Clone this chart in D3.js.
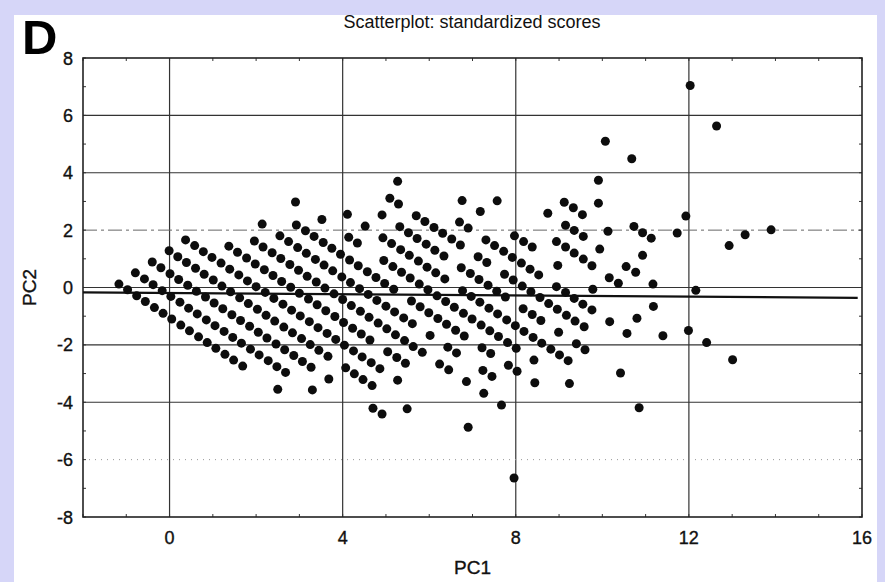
<!DOCTYPE html>
<html>
<head>
<meta charset="utf-8">
<script src="https://cdn.jsdelivr.net/npm/d3@7"></script>
<style>
  html, body { margin: 0; padding: 0; background: #d6d6f8; }
  svg { display: block; font-family: "Liberation Sans", Arial, Helvetica, sans-serif; }
  .lbl { fill: #111; stroke: #111; stroke-width: 0.35px; }
</style>
</head>
<body>
<svg id="chart" width="885" height="582"></svg>
<script>
// Standardized principal component scores (PC1, PC2)
const scoresLow = [
  [-1.17,0.12],[-0.97,-0.08],[-0.76,-0.29],[-0.56,-0.49],[-0.35,-0.70],[-0.15,-0.90],[0.05,-1.10],[0.26,-1.31],[0.46,-1.51],[0.67,-1.72],[0.87,-1.92],[1.07,-2.12],[1.28,-2.33],[1.48,-2.53],[1.69,-2.74],[2.50,-3.55],
  [-0.79,0.51],[-0.58,0.30],[-0.38,0.10],[-0.17,-0.11],[0.03,-0.31],[0.24,-0.51],[0.44,-0.72],[0.64,-0.92],[0.85,-1.13],[1.05,-1.33],[1.26,-1.53],[1.46,-1.74],[1.66,-1.94],[1.87,-2.15],[2.07,-2.35],[2.28,-2.55],[2.48,-2.76],[2.68,-2.96],[3.30,-3.57],
  [-0.40,0.89],[-0.20,0.69],[0.01,0.48],[0.21,0.28],[0.42,0.08],[0.62,-0.13],[0.83,-0.33],[1.03,-0.54],[1.23,-0.74],[1.44,-0.95],[1.64,-1.15],[1.85,-1.35],[2.05,-1.56],[2.25,-1.76],[2.46,-1.97],[2.66,-2.17],[2.87,-2.37],[3.07,-2.58],[3.27,-2.78],[3.68,-3.19],[4.70,-4.21],[4.91,-4.41],
  [-0.01,1.28],[0.19,1.07],[0.39,0.87],[0.60,0.67],[0.80,0.46],[1.01,0.26],[1.21,0.05],[1.41,-0.15],[1.62,-0.36],[1.82,-0.56],[2.03,-0.76],[2.23,-0.97],[2.43,-1.17],[2.64,-1.38],[2.84,-1.58],[3.05,-1.78],[3.25,-1.99],[3.45,-2.19],[3.66,-2.40],[4.07,-2.80],[4.27,-3.01],[4.47,-3.21],[4.68,-3.42],[5.49,-4.23],
  [0.37,1.66],[0.58,1.46],[0.78,1.25],[0.98,1.05],[1.19,0.85],[1.39,0.64],[1.60,0.44],[1.80,0.23],[2.00,0.03],[2.21,-0.17],[2.41,-0.38],[2.62,-0.58],[2.82,-0.79],[3.02,-0.99],[3.23,-1.19],[3.43,-1.40],[3.64,-1.60],[3.84,-1.81],[4.04,-2.01],[4.25,-2.21],[4.45,-2.42],[4.66,-2.62],[4.86,-2.83],[5.27,-3.23],[6.90,-4.87]
];
const scoresMid = [
  [1.37,1.44],[1.57,1.23],[1.78,1.03],[1.98,0.82],[2.19,0.62],[2.39,0.42],[2.59,0.21],[2.80,0.01],[3.00,-0.20],[3.21,-0.40],[3.41,-0.60],[3.61,-0.81],[3.82,-1.01],[4.02,-1.22],[4.23,-1.42],[4.43,-1.62],[4.63,-1.83],[5.04,-2.24],[5.25,-2.44],[5.45,-2.64],
  [1.96,1.62],[2.16,1.41],[2.37,1.21],[2.57,1.01],[2.78,0.80],[2.98,0.60],[3.18,0.39],[3.39,0.19],[3.59,-0.02],[3.80,-0.22],[4.00,-0.42],[4.20,-0.63],[4.41,-0.83],[4.61,-1.04],[4.82,-1.24],[5.02,-1.44],[5.22,-1.65],[5.43,-1.85],[5.63,-2.06],[5.84,-2.26],[6.24,-2.67],[6.45,-2.87],[6.86,-3.28],[7.26,-3.69],[7.67,-4.10],
  [2.14,2.21],[2.55,1.80],[2.75,1.60],[2.96,1.39],[3.16,1.19],[3.37,0.98],[3.57,0.78],[3.77,0.58],[3.98,0.37],[4.18,0.17],[4.39,-0.04],[4.59,-0.24],[4.79,-0.45],[5.00,-0.65],[5.20,-0.85],[5.41,-1.06],[5.61,-1.26],[6.02,-1.67],[6.43,-2.08],[6.63,-2.28],[7.24,-2.89],[7.45,-3.10],
  [2.93,2.18],[3.14,1.98],[3.34,1.78],[3.55,1.57],[3.75,1.37],[3.95,1.16],[4.16,0.96],[4.36,0.76],[4.57,0.55],[4.77,0.35],[4.97,0.14],[5.18,-0.06],[5.59,-0.47],[5.79,-0.67],[5.99,-0.88],[6.20,-1.08],[6.40,-1.28],[6.61,-1.49],[6.81,-1.69],[7.22,-2.10],[7.42,-2.30],[7.83,-2.71],[8.03,-2.92],[8.44,-3.32],
  [2.91,2.98],[3.52,2.37],[4.14,1.75],[4.34,1.55],[4.95,0.94],[5.16,0.73],[5.36,0.53],[5.56,0.33],[5.77,0.12],[5.97,-0.08],[6.18,-0.29],[6.38,-0.49],[6.58,-0.69],[6.79,-0.90],[6.99,-1.10],[7.20,-1.31],[7.40,-1.51],[7.60,-1.71],[7.81,-1.92],[8.01,-2.12],[8.42,-2.53],[9.24,-3.35]
];
const scoresHigh = [
  [4.11,2.55],[4.52,2.14],[4.93,1.73],[5.13,1.53],[5.34,1.32],[5.54,1.12],[5.75,0.92],[5.95,0.71],[6.15,0.51],[6.36,0.30],[6.77,-0.11],[6.97,-0.31],[7.17,-0.51],[7.38,-0.72],[7.58,-0.92],[7.79,-1.13],[7.99,-1.33],[8.19,-1.53],[8.40,-1.74],[8.60,-1.94],[8.81,-2.15],[9.01,-2.35],[9.21,-2.55],[10.85,-4.19],
  [4.91,2.53],[5.32,2.12],[5.52,1.91],[5.72,1.71],[5.93,1.51],[6.13,1.30],[6.34,1.10],[6.74,0.69],[6.95,0.49],[7.15,0.28],[7.36,0.08],[7.56,-0.13],[7.76,-0.33],[8.17,-0.74],[8.38,-0.94],[8.58,-1.15],[8.99,-1.56],[9.40,-1.96],[9.60,-2.17],[10.42,-2.98],
  [5.09,3.11],[5.29,2.91],[5.70,2.50],[5.90,2.30],[6.11,2.09],[6.31,1.89],[6.52,1.69],[6.72,1.48],[7.13,1.07],[7.33,0.87],[7.74,0.46],[7.94,0.26],[8.15,0.05],[8.35,-0.15],[8.56,-0.35],[8.76,-0.56],[8.96,-0.76],[9.17,-0.97],[9.37,-1.17],[9.58,-1.37],
  [5.27,3.70],[6.70,2.28],[6.90,2.07],[7.31,1.66],[7.51,1.46],[7.72,1.26],[7.92,1.05],[8.13,0.85],[8.33,0.64],[8.53,0.44],[8.94,0.03],[9.15,-0.17],[9.35,-0.38],[9.55,-0.58],[9.76,-0.78],[10.17,-1.19],[10.57,-1.60]
];
const scoresSparse = [
  [6.76,3.03],[7.18,2.65],[7.97,1.80],[8.18,1.60],[8.38,1.41],[8.97,0.77],[9.78,-0.06],[10.80,-1.07],[11.40,-1.68],
  [7.57,3.02],[8.94,1.60],[9.15,1.41],[9.35,1.20],[9.56,0.99],[9.76,0.76],[10.16,0.34],[10.37,0.15],[11.18,-0.66],[11.99,-1.50],
  [8.74,2.59],[9.15,2.17],[9.35,1.99],[9.56,1.78],[9.94,1.34],[10.55,0.73],[10.77,0.53],[11.17,0.12],
  [9.12,2.97],[9.33,2.78],[9.54,2.54],[10.13,1.96],[10.93,1.12],[12.16,-0.10],
  [9.91,2.94],[10.73,2.13],[10.93,1.91],[11.13,1.72],
  [9.91,3.74],[11.73,1.90],[11.93,2.49],[10.07,5.10],[10.68,4.49],
  [12.03,7.04],[12.64,5.63],[12.93,1.46],[13.30,1.84],[13.90,2.01],[12.41,-1.92],[13.01,-2.52],[7.96,-6.64]
];

// Fitted line through the cloud
const fitPC1 = [-2, 15.9];
const fitPC2 = [-0.17, -0.36];

const xTicks = [0, 4, 8, 12, 16];
const yTicks = [-8, -6, -4, -2, 0, 2, 4, 6, 8];
const xGrid = [0, 4, 8, 12];
const yGridSolid = [-4, -2, 0, 4, 6];
const yGridDashed = [2];
const yGridDotted = [-6];

const titleText = "Scatterplot: standardized scores";
const panelLetter = "D";
const xLabel = "PC1";
const yLabel = "PC2";

const W = 885, H = 582;
const plot = { left: 83, right: 862, top: 58, bottom: 517 };

const svg = d3.select("#chart");

const x = d3.scaleLinear().domain([-2, 16]).range([plot.left, plot.right]);
const y = d3.scaleLinear().domain([-8, 8]).range([plot.bottom, plot.top]);

// white page panel
svg.append("rect").attr("x", 14).attr("y", 15).attr("width", 863).attr("height", H - 15).attr("fill", "#ffffff");

// grid
const grid = svg.append("g").attr("class", "grid");
grid.selectAll("line.vx").data(xGrid).join("line")
  .attr("x1", d => x(d)).attr("x2", d => x(d))
  .attr("y1", plot.top).attr("y2", plot.bottom)
  .attr("stroke", "#333").attr("stroke-width", 1.2);
grid.selectAll("line.hs").data(yGridSolid).join("line")
  .attr("x1", plot.left).attr("x2", plot.right)
  .attr("y1", d => y(d)).attr("y2", d => y(d))
  .attr("stroke", "#333").attr("stroke-width", 1.2);
yGridDashed.forEach(v => {
  grid.append("line")
    .attr("x1", plot.left).attr("x2", plot.right)
    .attr("y1", y(v)).attr("y2", y(v))
    .attr("stroke", "#666").attr("stroke-width", 1)
    .attr("stroke-dasharray", "14,4,3,4");
});
yGridDotted.forEach(v => {
  grid.append("line")
    .attr("x1", plot.left).attr("x2", plot.right)
    .attr("y1", y(v)).attr("y2", y(v))
    .attr("stroke", "#999").attr("stroke-width", 1)
    .attr("stroke-dasharray", "1,5");
});

// minor ticks along the frame
const minorX = d3.range(-2, 16.01, 1);
const minorY = d3.range(-8, 8.01, 1);
const ticks = svg.append("g").attr("stroke", "#333").attr("stroke-width", 1);
minorX.forEach(v => {
  ticks.append("line").attr("x1", x(v)).attr("x2", x(v)).attr("y1", plot.top).attr("y2", plot.top + 3);
  ticks.append("line").attr("x1", x(v)).attr("x2", x(v)).attr("y1", plot.bottom).attr("y2", plot.bottom - 3);
});
minorY.forEach(v => {
  ticks.append("line").attr("x1", plot.left).attr("x2", plot.left + 3).attr("y1", y(v)).attr("y2", y(v));
  ticks.append("line").attr("x1", plot.right).attr("x2", plot.right - 3).attr("y1", y(v)).attr("y2", y(v));
});

// frame
svg.append("rect")
  .attr("x", plot.left).attr("y", plot.top)
  .attr("width", plot.right - plot.left).attr("height", plot.bottom - plot.top)
  .attr("fill", "none").attr("stroke", "#222").attr("stroke-width", 1.6);

// fitted line
svg.append("path")
  .datum(fitPC1.map((v, i) => [v, fitPC2[i]]))
  .attr("d", d3.line().x(d => x(d[0])).y(d => y(d[1])))
  .attr("fill", "none").attr("stroke", "#111").attr("stroke-width", 2.2);

// points
const allScores = scoresLow.concat(scoresMid, scoresHigh, scoresSparse);
svg.append("g").selectAll("circle").data(allScores).join("circle")
  .attr("cx", d => x(d[0])).attr("cy", d => y(d[1]))
  .attr("r", 4.5).attr("fill", "#0d0d0d");

// axis labels
const labelFont = 18;
svg.append("g").selectAll("text").data(xTicks).join("text")
  .attr("class", "lbl")
  .attr("x", d => x(d)).attr("y", 544)
  .attr("text-anchor", "middle").attr("font-size", labelFont)
  .text(d => d);
svg.append("g").selectAll("text").data(yTicks).join("text")
  .attr("class", "lbl")
  .attr("x", 73).attr("y", d => y(d) + 6.5)
  .attr("text-anchor", "end").attr("font-size", labelFont)
  .text(d => d);

svg.append("text").attr("class", "lbl").attr("x", x(7)).attr("y", 574)
  .attr("text-anchor", "middle").attr("font-size", 19).text(xLabel);
svg.append("text").attr("class", "lbl").attr("transform", `translate(36,${y(0)}) rotate(-90)`)
  .attr("text-anchor", "middle").attr("font-size", 19).text(yLabel);

svg.append("text").attr("x", 472).attr("y", 28)
  .attr("text-anchor", "middle").attr("font-size", 18).attr("fill", "#111").text(titleText);

svg.append("text").attr("x", 22).attr("y", 54)
  .attr("font-size", 49).attr("font-weight", "bold").attr("fill", "#000").text(panelLetter);
</script>
</body>
</html>
